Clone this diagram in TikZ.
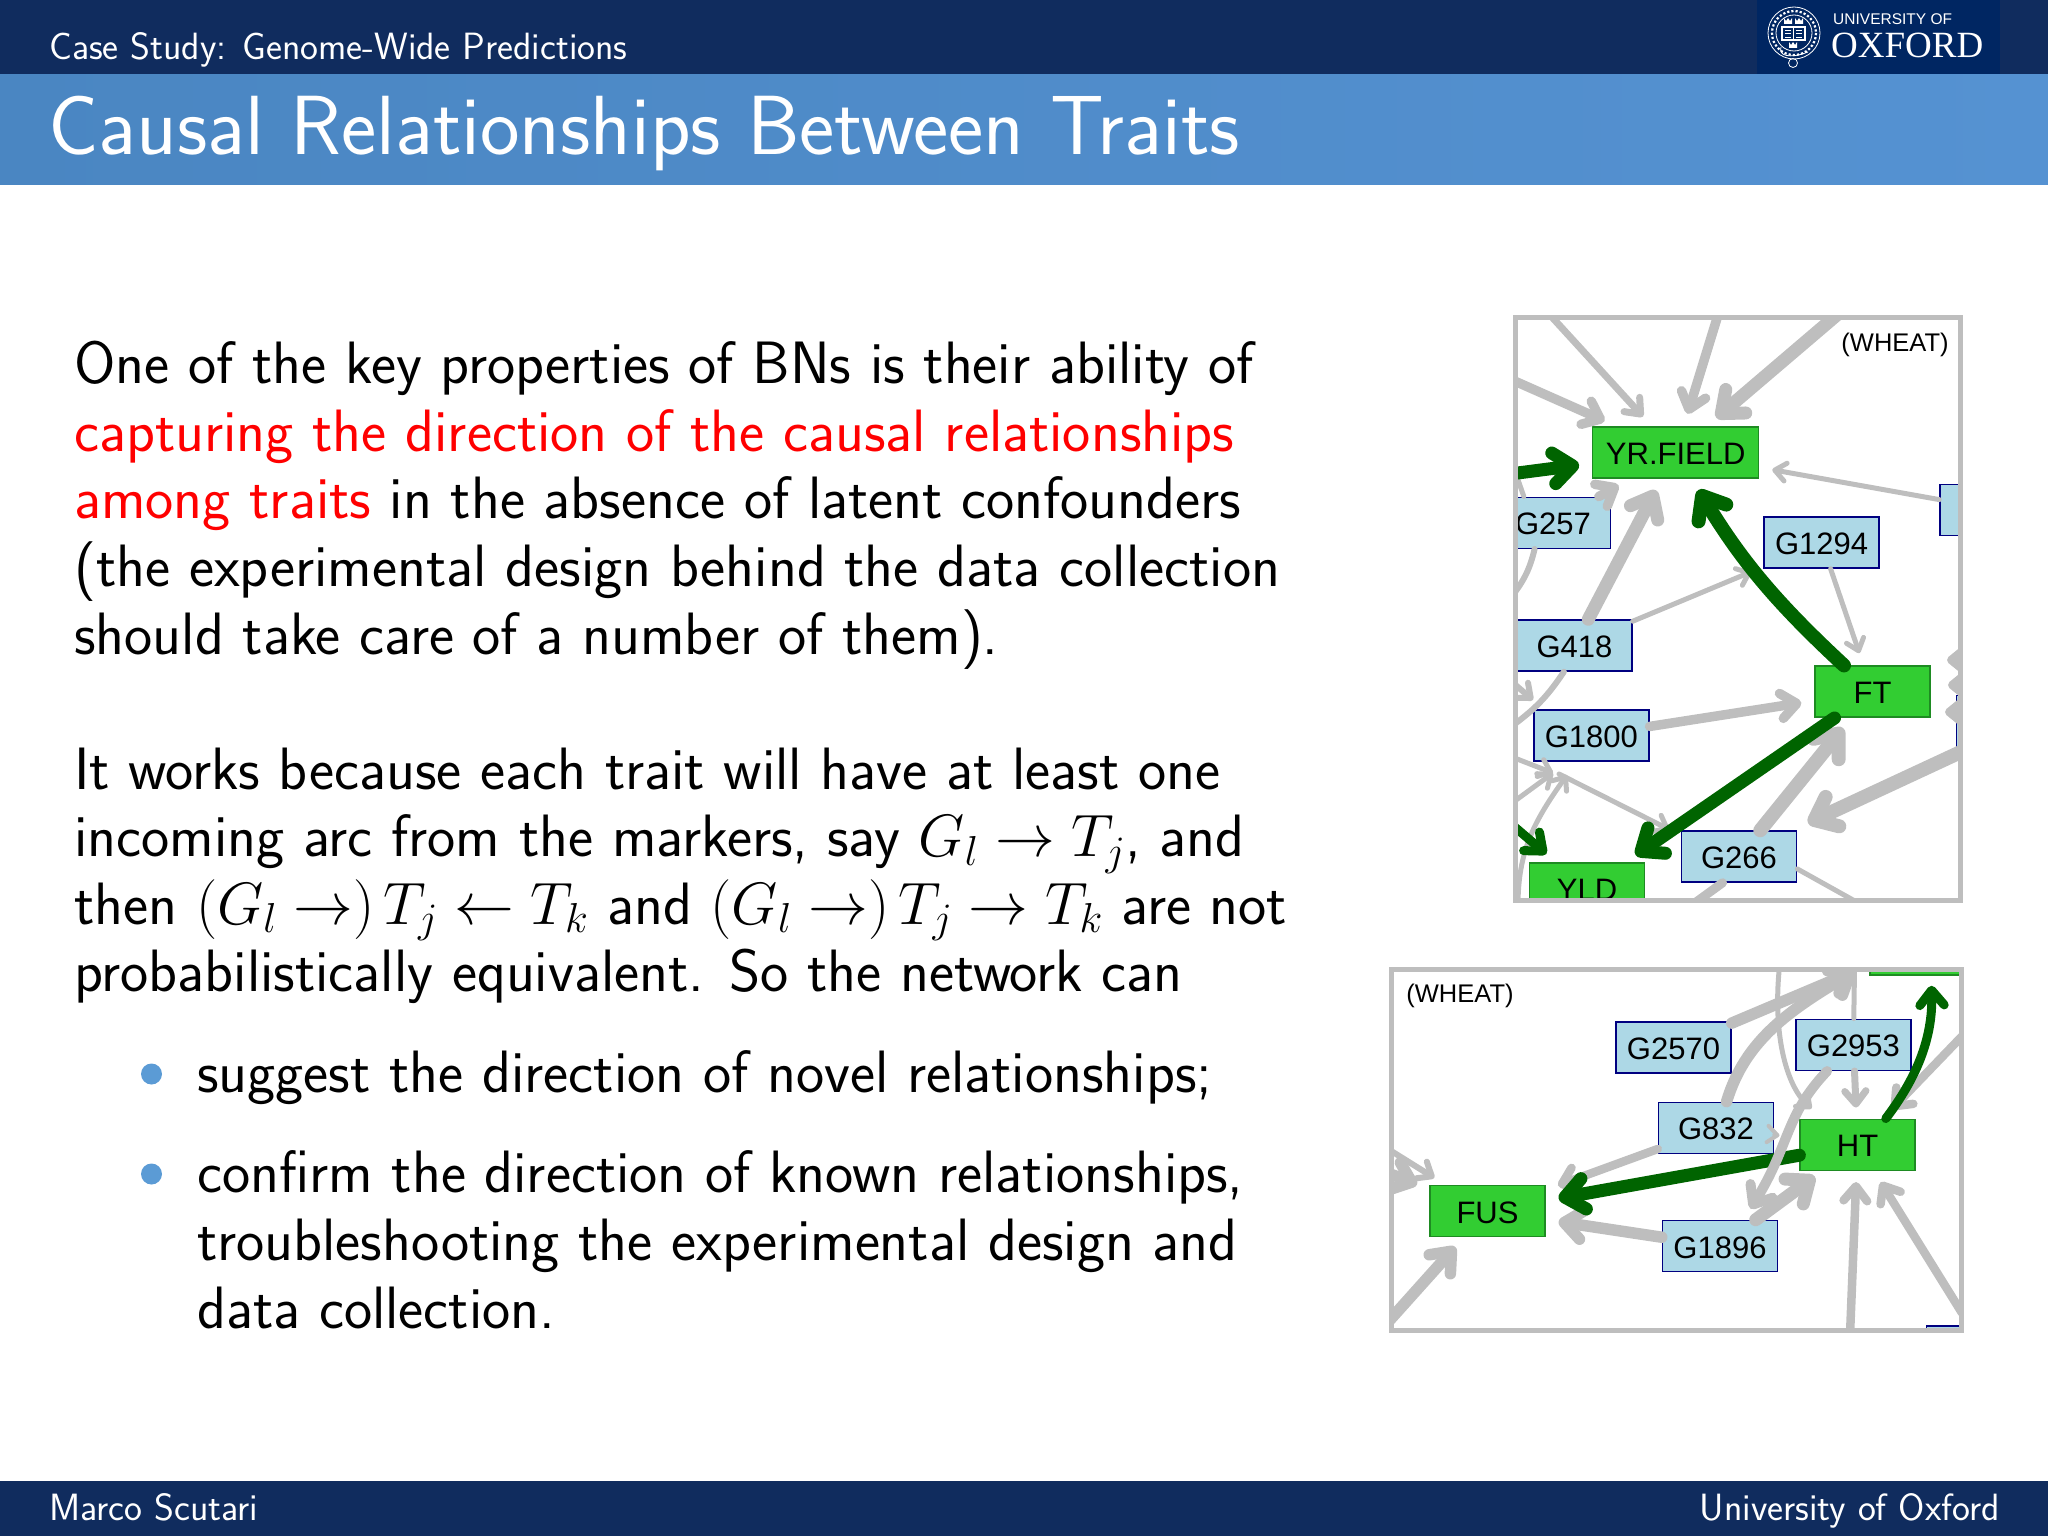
\documentclass[tikz,border=0pt]{standalone}
\usepackage{fix-cm}
\usepackage{fontspec}
\usetikzlibrary{arrows.meta}
\newfontfamily\labelfont{Liberation Sans}
\newfontfamily\crestfont{Liberation Serif}
\definecolor{barnavy}{HTML}{102C5E}
\definecolor{crestnavy}{HTML}{002662}
\definecolor{barblue}{HTML}{5592D2}
\definecolor{barblueleft}{HTML}{4A86C2}
\definecolor{dotblue}{HTML}{5B9BD5}
\definecolor{edgegray}{HTML}{BEBEBE}
\definecolor{edgegreen}{HTML}{006400}
\definecolor{markerfill}{HTML}{ADD8E6}
\definecolor{markerline}{HTML}{000080}
\definecolor{traitfill}{HTML}{32CD32}
\definecolor{traitline}{HTML}{1E8B22}
\tikzset{
  textline/.style={anchor=base west,inner sep=0pt,font=\fontsize{59.8}{68}\selectfont\sffamily},
  barline/.style={textline,text=white,font=\fontsize{38}{44}\selectfont\sffamily},
  marker/.style={draw=markerline,fill=markerfill,line width=1.5pt,minimum width=115pt,minimum height=51pt,inner sep=0pt,text height=24pt,text depth=0pt,font=\fontsize{31}{36}\selectfont\labelfont},
  trait/.style={marker,draw=traitline,fill=traitfill},
  panel/.style={draw=edgegray,line width=5pt},
  arcgray/.style={draw=edgegray,line width=#1,line cap=round,shorten >=13pt,-{Straight Barb[round,length=6pt 1,width=10pt 1.6]}},
  arcgreen/.style={arcgray=#1,draw=edgegreen},
  tailgray/.style={draw=edgegray,line width=#1,line cap=round},
  bullet/.style={circle,fill=dotblue,minimum size=21pt,inner sep=0pt}
}
\begin{document}
\begin{tikzpicture}[x=1pt,y=-1pt]
  \useasboundingbox (0,0) rectangle (2048,1536);
  % bars
  \fill[barnavy] (0,0) rectangle (2048,75);
  \fill[crestnavy] (1757,0) rectangle (2000,75);
  \shade[left color=barblueleft,right color=barblue] (0,75) rectangle (2048,184);
  \fill[barnavy] (0,1481) rectangle (2048,1536);
  \node[barline] (section) at (49,60) {Case Study: Genome-Wide Predictions};
  \node[textline,text=white,font=\fontsize{84}{96}\selectfont\sffamily] (title) at (48,154) {Causal Relationships Between Traits};
  \node[barline] (author) at (49,1520) {Marco Scutari};
  \node[barline,anchor=base east] (place) at (2000,1520) {University of Oxford};
  % crest
  \begin{scope}[draw=white,line width=.8pt]
    \draw (1794,33) circle (26);
    \draw (1794,33) circle (18);
    \draw[dotted,line width=2.2pt] (1794,33) circle (22);
    \draw[line width=1.4pt] (1782,27) rectangle (1805,40);
    \draw[line width=1.4pt] (1793.5,27) -- (1793.5,40);
    \draw (1785,30) -- (1791,30) (1785,33.5) -- (1791,33.5) (1785,37) -- (1791,37);
    \draw (1796,30) -- (1802,30) (1796,33.5) -- (1802,33.5) (1796,37) -- (1802,37);
    \draw (1793,63) circle (4.5);
    \draw (1781,47) .. controls (1778,56) and (1790,59) .. (1808,52);
  \end{scope}
  \fill[white] (1784,18) -- (1786,21) -- (1788,18) -- (1790,21) -- (1792,18) -- (1792,24) -- (1784,24) -- cycle;
  \fill[white] (1795,18) -- (1797,21) -- (1799,18) -- (1801,21) -- (1803,18) -- (1803,24) -- (1795,24) -- cycle;
  \fill[white] (1789,42) -- (1791,45) -- (1793,42) -- (1795,45) -- (1797,42) -- (1797,48) -- (1789,48) -- cycle;
  \node[anchor=base west,inner sep=0pt,text=white,font=\fontsize{15.5}{18}\selectfont\labelfont] (university) at (1833,25) {UNIVERSITY OF};
  \node[anchor=base west,inner sep=0pt,text=white,font=\fontsize{37}{44}\selectfont\crestfont] (oxford) at (1831,58) {OXFORD};
  % text
  \node[textline] (line1) at (74,383.6) {One of the key properties of BNs is their ability of};
  \node[textline,text=red] (line2) at (74,451.2) {capturing the direction of the causal relationships};
  \node[textline] (line3) at (74,518.8) {\textcolor{red}{among traits} in the absence of latent confounders};
  \node[textline] (line4) at (74,586.4) {(the experimental design behind the data collection};
  \node[textline] (line5) at (74,654) {should take care of a number of them).};
  \node[textline] (line6) at (74,789) {It works because each trait will have at least one};
  \node[textline] (line7) at (74,856.4) {incoming arc from the markers, say $G_l \to T_j$, and};
  \node[textline] (line8) at (74,924) {then $(G_l \to)\mskip2.7mu T_j \leftarrow T_k$ and $(G_l \to)\mskip2.7mu T_j \to T_k$ are not};
  \node[textline] (line9) at (74,991.2) {probabilistically equivalent. So the network can};
  \node[bullet] (dot1) at (151.5,1074) {};
  \node[textline] (line10) at (197,1092.6) {suggest the direction of novel relationships;};
  \node[bullet] (dot2) at (151.5,1174) {};
  \node[textline] (line11) at (197,1192.6) {confirm the direction of known relationships,};
  \node[textline] (line12) at (197,1260.6) {troubleshooting the experimental design and};
  \node[textline] (line13) at (197,1328.2) {data collection.};
  % upper panel
  \begin{scope}
    \clip (1515.5,317.5) rectangle (1960,900);
    \draw
      (1675.7,452.5) node[trait,minimum width=166pt] (yrfield){YR.FIELD}
      (1553,522.8) node[marker] (g257){G257}
      (1821.6,542.5) node[marker] (g1294){G1294}
      (1997.5,510) node[marker] (gright){}
      (1574.5,645.5) node[marker] (g418){G418}
      (1591.3,735.5) node[marker] (g1800){G1800}
      (1872.5,691.7) node[trait] (ft){FT}
      (1587,888.7) node[trait] (yld){YLD}
      (1739,856.5) node[marker] (g266){G266}
      (2014,721) node[marker] (gedge){};
    \coordinate (topa) at (1550,315);
    \coordinate (topb) at (1718,315);
    \coordinate (topc) at (1838,314);
    \coordinate (lefta) at (1510,379);
    \coordinate (leftb) at (1510,474);
    \coordinate (leftc) at (1510,457);
    \coordinate (leftd) at (1512,596);
    \coordinate (lefte) at (1512,726);
    \coordinate (leftf) at (1512,682);
    \coordinate (leftg) at (1505,643);
    \coordinate (lefth) at (1510,823);
    \coordinate (lefti) at (1512,757);
    \coordinate (leftj) at (1512,803);
    \coordinate (leftk) at (1518,905);
    \coordinate (cross) at (1559,774);
    \coordinate (joint) at (1567,775);
    \coordinate (tipx) at (1533,700);
    \coordinate (crossb) at (1553,773);
    \coordinate (rightn) at (1965,750);
    \coordinate (bottoma) at (1692,905);
    \coordinate (bottomb) at (1862,905);
    \coordinate (bumpa) at (1947,660);
    \coordinate (bumpb) at (1948,685);
    \coordinate (bumpc) at (1945,712);
    \coordinate (rightb) at (1972,660);
    \coordinate (rightc) at (1972,685);
    \coordinate (rightd) at (1972,712);
    \coordinate (leftm) at (1518,640);
    \coordinate (tipn) at (1808,823);
    \begin{scope}
      \draw[arcgray=7pt] (topa) to (yrfield);
      \draw[arcgray=9.5pt] (topb) to (yrfield);
      \draw[arcgray=13pt] (topc) to (yrfield);
      \draw[arcgray=9.5pt] (lefta) to (yrfield);
      \draw[arcgray=9.5pt] (g257) to (yrfield);
      \draw[tailgray=5pt] (g257.138) to (leftc);
      \draw[arcgray=13pt] (g418) to (yrfield);
      \draw[arcgray=5pt] (g418) to (g1294);
      \draw[arcgray=5pt] (g1294) to (ft);
      \draw[arcgray=5pt] (gright) to (yrfield);
      \draw[tailgray=6pt] (g257.-125) to[bend left=12] (leftd);
      \draw[tailgray=6pt] (g418.-112) to[bend left=10] (lefte);
      \draw[arcgray=6pt,shorten >=0pt] (leftf) to (tipx);
      \draw[arcgray=5pt,shorten >=0pt] (leftg) to (leftm);
      \draw[arcgray=9.5pt] (g1800) to (ft);
      \draw[arcgray=14pt] (g266) to (ft);
      \draw[arcgray=14pt,shorten >=0pt] (rightn) to (tipn);
      \draw[arcgray=5pt,shorten >=0pt] (lefti) to (crossb);
      \draw[arcgray=5pt,shorten >=0pt] (leftj) to (crossb);
      \draw[arcgray=5pt,shorten >=0pt] (leftk) .. controls (1518,850) and (1535,820) .. (joint);
      \draw[arcgray=5pt] (cross) to (g266.160);
      \draw[tailgray=9pt] (g266.-122) to (bottoma);
      \draw[tailgray=5pt] (g266.-12) to (bottomb);
      \draw[arcgray=8pt,shorten >=0pt] (rightb) to (bumpa);
      \draw[arcgray=8pt,shorten >=0pt] (rightc) to (bumpb);
      \draw[arcgray=8pt,shorten >=0pt] (rightd) to (bumpc);
      \draw[arcgreen=13pt] (leftb) to (yrfield);
      \draw[arcgreen=14pt] (ft) to[bend left=8] (yrfield);
      \draw[arcgreen=13pt] (ft) to (yld);
      \draw[arcgreen=9pt] (lefth) to (yld);
    \end{scope}
  \end{scope}
  \draw[panel] (1515.5,317.5) rectangle (1960,900);
  \node[inner sep=0pt,font=\fontsize{25.5}{30}\selectfont\labelfont] (wheata) at (1895,344.5) {(WHEAT)};
  % lower panel
  \begin{scope}
    \clip (1391.5,969) rectangle (1961,1330);
    \draw
      (1673.5,1047.7) node[marker] (g2570){G2570}
      (1853.4,1044.8) node[marker] (g2953){G2953}
      (1716,1127.8) node[marker] (g832){G832}
      (1857.6,1144.8) node[trait] (ht){HT}
      (1487.5,1211) node[trait] (fus){FUS}
      (1720,1246) node[marker] (g1896){G1896}
      (1927.5,949.5) node[trait] (topbox){}
      (1984,1351.5) node[marker] (botbox){};
    \coordinate (crown) at (1855,971);
    \coordinate (upc) at (1780,962);
    \coordinate (upd) at (1854.6,962);
    \coordinate (sideh) at (1968,1030);
    \coordinate (downn) at (1850,1335);
    \coordinate (downo) at (1962,1313);
    \coordinate (downp) at (1388,1322);
    \coordinate (sideq) at (1388,1149);
    \coordinate (sider) at (1385,1172);
    \begin{scope}
      \draw[arcgray=11.5pt,shorten >=0pt] (g2570) to (crown);
      \draw[arcgray=11.5pt,shorten >=0pt] (g832.68) .. controls (1745,1040) and (1790,1010) .. (crown);
      \draw[arcgray=5pt,shorten >=15pt] (upc) .. controls (1772,1030) and (1785,1085) .. (ht.143);
      \draw[tailgray=5pt] (g2953) to (upd);
      \draw[arcgray=7pt,shorten >=11pt] (g2953) to (ht);
      \draw[arcgray=8.5pt] (sideh) to (ht);
      \draw[arcgray=8.5pt] (g832) to (fus);
      \draw[arcgray=11.5pt] (g1896) to (fus);
      \draw[arcgray=13pt,shorten >=9pt] (g1896) to (ht);
      \draw[arcgray=4pt,shorten >=20pt] (g832) to (ht);
      \draw[arcgray=8.5pt,shorten >=11pt] (downn) to (ht);
      \draw[arcgray=8.5pt] (downo) to (ht);
      \draw[arcgray=11.5pt] (downp) to (fus);
      \draw[arcgray=6pt] (sideq) to (fus);
      \draw[arcgray=11.5pt] (sider) to (fus);
      \draw[arcgreen=13pt] (ht) to (fus);
      \draw[arcgray=10pt] (g2953.-135) .. controls (1785,1115) and (1790,1145) .. (g1896.48);
      \draw[arcgreen=9pt,shorten >=10pt] (ht.43) .. controls (1915,1080) and (1933,1040) .. (topbox.-82);
    \end{scope}
  \end{scope}
  \draw[panel] (1391.5,969) rectangle (1961,1330);
  \node[inner sep=0pt,font=\fontsize{25.5}{30}\selectfont\labelfont] (wheatb) at (1460,995.5) {(WHEAT)};
\end{tikzpicture}
\end{document}
